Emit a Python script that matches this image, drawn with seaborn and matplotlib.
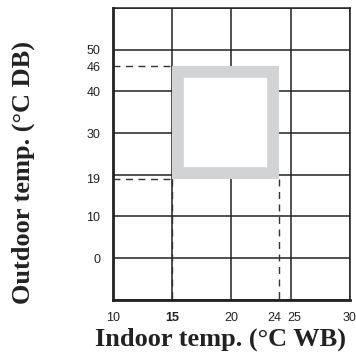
import numpy as np
import pandas as pd
import matplotlib
matplotlib.use("Agg")
import matplotlib.pyplot as plt
import matplotlib.transforms as mtransforms
from matplotlib.patches import Rectangle
import seaborn as sns

# operating range (indoor WB, outdoor DB)
indoor_range = [15, 24]
outdoor_range = [19, 46]

x_ticks = [10, 15, 20, 24, 25, 30]
y_ticks = [0, 10, 19, 30, 40, 46, 50]
x_grid = [10, 15, 20, 25, 30]
y_grid = [-10, 0, 10, 20, 30, 40, 50, 60]

sns.set_style("white")
plt.rcParams['font.family'] = ['Liberation Sans', 'DejaVu Sans']

fig = plt.figure(figsize=(3.56, 3.63), dpi=100)
ax = fig.add_axes([0.317, 0.174, 0.666, 0.804])

ax.set_xlim(x_grid[0], x_grid[-1])
ax.set_ylim(y_grid[0], y_grid[-1])

# grid on minor ticks, labels on major ticks
ax.xaxis.remove_overlapping_locs = False
ax.yaxis.remove_overlapping_locs = False
ax.set_xticks(x_grid, minor=True)
ax.set_yticks(y_grid, minor=True)
ax.grid(which='minor', color='#222222', linewidth=1.1, zorder=1)
ax.grid(which='major', visible=False)
ax.set_xticks(x_ticks)
ax.set_yticks(y_ticks)
ax.tick_params(which='both', length=0, labelsize=9, colors='#222222')
ax.tick_params(axis='x', pad=9)
ax.tick_params(axis='y', pad=9)

# nudge the crowded 24 / 25 labels apart
for lab in ax.get_xticklabels():
    t = lab.get_text()
    if t == '24':
        lab.set_transform(lab.get_transform() + mtransforms.ScaledTranslation(-5/100, 0, fig.dpi_scale_trans))
    elif t == '25':
        lab.set_transform(lab.get_transform() + mtransforms.ScaledTranslation(4/100, 0, fig.dpi_scale_trans))
    elif t == '15':
        lab.set_fontweight('bold')

for s in ax.spines.values():
    s.set_color('#222222')
    s.set_linewidth(1.1)
ax.spines['left'].set_linewidth(2)
ax.spines['bottom'].set_linewidth(2)

# dashed guide lines
guides = pd.DataFrame({
    'x': [x_grid[0], indoor_range[0], x_grid[0], indoor_range[0], indoor_range[0],
          indoor_range[0], indoor_range[1], indoor_range[1]],
    'y': [outdoor_range[1], outdoor_range[1], outdoor_range[0], outdoor_range[0],
          outdoor_range[0], y_grid[0], outdoor_range[0], y_grid[0]],
    'seg': [0, 0, 1, 1, 2, 2, 3, 3],
})
for _, g in guides.groupby('seg'):
    sns.lineplot(data=g, x='x', y='y', ax=ax, color='#333333', linewidth=1.0,
                 linestyle=(0, (5, 4)), sort=False, estimator=None, zorder=3)

# operating range box: thick gray border drawn inside the box
rect = Rectangle((indoor_range[0], outdoor_range[0]),
                 indoor_range[1] - indoor_range[0],
                 outdoor_range[1] - outdoor_range[0],
                 facecolor='white', edgecolor='#d2d3d4', linewidth=17, zorder=4)
ax.add_patch(rect)
rect.set_clip_path(rect)

ax.set_xlabel('Indoor temp. (°C WB)', family='Liberation Serif', weight='bold',
              fontsize=19, color='#222222')
ax.set_ylabel('Outdoor temp. (°C DB)', family='Liberation Serif', weight='bold',
              fontsize=19, color='#222222')
ax.xaxis.set_label_coords(0.456, -0.095)
ax.yaxis.set_label_coords(-0.33, 0.435)

fig.savefig('out.png', dpi=100)
